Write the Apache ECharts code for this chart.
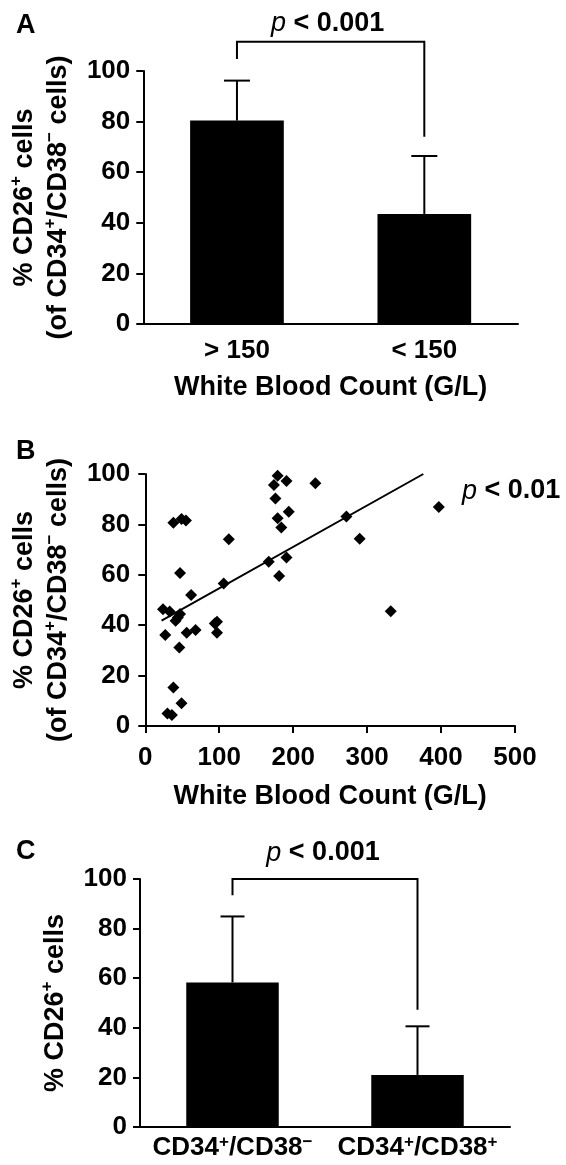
<!DOCTYPE html>
<html><head><meta charset="utf-8">
<script src="https://cdn.jsdelivr.net/npm/echarts@6/dist/echarts.min.js"></script>
<style>html,body{margin:0;padding:0;background:#fff}#c{width:566px;height:1165px}</style>
</head><body><div id="c"></div>
<script>
// ---------- Panel A ----------
const catsA = ['> 150', '< 150'];
const meanA = [80.4, 43.5];
const errTopA = [96.2, 66.4];
const bracketA = [111.6, 104.7, 74.0]; // top, left leg end, right leg end
const pTextA = 'p < 0.001';
const yNameA = ['% CD26⁺ cells', '(of CD34⁺/CD38⁻ cells)'];
const xNameA = 'White Blood Count (G/L)';

// ---------- Panel B ----------
const scatterX = [179, 174, 191, 230, 176, 194, 179, 184, 38, 49, 55, 113, 167, 191, 181, 106, 47, 62, 24, 33, 47, 41, 44, 27, 56, 68, 46, 97, 94, 97, 38, 49, 30, 36, 272, 290, 397, 332];
const scatterY = [99.3, 95.6, 97.2, 96.3, 90.3, 85.0, 82.4, 78.8, 80.7, 82.1, 81.5, 74.1, 65.2, 66.9, 59.5, 56.5, 60.7, 52.0, 46.3, 45.4, 44.4, 41.8, 43.1, 36.1, 37.0, 38.1, 31.2, 41.4, 40.7, 37.0, 15.3, 9.0, 5.0, 4.4, 83.1, 74.3, 86.9, 45.5];
const fitX = [22, 376];
const fitY = [41.8, 100];
const pTextB = 'p < 0.01';
const yNameB = ['% CD26⁺ cells', '(of CD34⁺/CD38⁻ cells)'];
const xNameB = 'White Blood Count (G/L)';

// ---------- Panel C ----------
const catsC = ['CD34⁺/CD38⁻', 'CD34⁺/CD38⁺'];
const meanC = [58.3, 21.0];
const errTopC = [84.9, 40.6];
const bracketC = [100, 93.4, 47.3];
const pTextC = 'p < 0.001';
const yNameC = ['% CD26⁺ cells'];

const panelLetters = ['A', 'B', 'C'];

// ---------- helpers ----------
const FF = '"Liberation Sans", Arial, Helvetica, sans-serif';
const FS = 26;   // tick labels
const NS = 27;   // axis names
function sup(s) { return s.replace(/⁺/g, '{s|+}').replace(/⁻/g, '{s|−}'); }
const supRich = { s: { fontSize: 17, fontWeight: 'bold', fontFamily: FF, color: '#000', verticalAlign: 'top', lineHeight: 16 } };
function pRich(t) { return '{i|' + t.charAt(0) + '}{b|' + t.slice(1) + '}'; }
const pRichStyle = {
  i: { fontSize: NS, fontStyle: 'italic', fontWeight: 'normal', fontFamily: FF, color: '#000' },
  b: { fontSize: NS, fontWeight: 'bold', fontFamily: FF, color: '#000' }
};

function yAxisCfg(gridIndex, nameLines, nameGap, labelMargin) {
  return {
    gridIndex, type: 'value', min: 0, max: 100, interval: 20,
    name: nameLines.map(sup).join('\n'), nameLocation: 'middle', nameRotate: 90, nameGap,
    nameTextStyle: { fontSize: NS, fontWeight: 'bold', fontFamily: FF, color: '#000', lineHeight: 34, rich: supRich },
    axisLine: { show: true, lineStyle: { color: '#000', width: 2 } },
    axisTick: { show: true, length: 7, lineStyle: { color: '#000', width: 2 } },
    axisLabel: { fontSize: FS, fontWeight: 'bold', fontFamily: FF, color: '#000', margin: labelMargin },
    splitLine: { show: false }
  };
}

function errItem(hw) {
  return function (params, api) {
    const x = api.value(0);
    const b = api.coord([x, api.value(1)]);
    const t = api.coord([x, api.value(2)]);
    return { type: 'group', children: [
      { type: 'line', shape: { x1: b[0], y1: b[1], x2: t[0], y2: t[1] }, style: { stroke: '#000', lineWidth: 2 } },
      { type: 'line', shape: { x1: t[0] - hw, y1: t[1], x2: t[0] + hw, y2: t[1] }, style: { stroke: '#000', lineWidth: 2 } }
    ] };
  };
}
function bracketItem(text, off, dx) {
  return function (params, api) {
    const p1 = api.coord([0, api.value(1)]);
    const p2 = api.coord([0, api.value(0)]);
    const p3 = api.coord([1, api.value(0)]);
    const p4 = api.coord([1, api.value(2)]);
    return { type: 'group', children: [
      { type: 'polyline', shape: { points: [p1, p2, p3, p4] }, style: { stroke: '#000', lineWidth: 2, fill: null } },
      { type: 'text', x: (p2[0] + p3[0]) / 2 + dx, y: p2[1] - off,
        style: { text: pRich(text), rich: pRichStyle, align: 'center', verticalAlign: 'middle' } }
    ] };
  };
}

const chart = echarts.init(document.getElementById('c'), null, { renderer: 'canvas' });
chart.setOption({
  animation: false,
  backgroundColor: '#fff',
  grid: [
    { left: 142, top: 71, width: 376, height: 253 },
    { left: 140, top: 474, width: 375, height: 252 },
    { left: 140, top: 879, width: 370, height: 248 }
  ],
  xAxis: [
    { gridIndex: 0, type: 'category', data: catsA,
      name: xNameA, nameLocation: 'middle', nameGap: 50,
      nameTextStyle: { fontSize: NS, fontWeight: 'bold', fontFamily: FF, color: '#000' },
      axisLine: { lineStyle: { color: '#000', width: 2 } }, axisTick: { show: false },
      axisLabel: { fontSize: FS, fontWeight: 'bold', fontFamily: FF, color: '#000', margin: 13, lineHeight: 28, interval: 0 } },
    { gridIndex: 1, type: 'value', min: 0, max: 500, interval: 100,
      name: xNameB, nameLocation: 'middle', nameGap: 57,
      nameTextStyle: { fontSize: NS, fontWeight: 'bold', fontFamily: FF, color: '#000' },
      axisLine: { lineStyle: { color: '#000', width: 2 } },
      axisTick: { show: true, length: 7, lineStyle: { color: '#000', width: 2 } },
      axisLabel: { fontSize: FS, fontWeight: 'bold', fontFamily: FF, color: '#000', margin: 19, lineHeight: 26 },
      splitLine: { show: false } },
    { gridIndex: 2, type: 'category', data: catsC,
      axisLine: { lineStyle: { color: '#000', width: 2 } }, axisTick: { show: false },
      axisLabel: { fontSize: FS, fontWeight: 'bold', fontFamily: FF, color: '#000', margin: 7, lineHeight: 28, interval: 0,
        formatter: v => sup(v), rich: supRich } }
  ],
  yAxis: [
    yAxisCfg(0, yNameA, 54, 13),
    yAxisCfg(1, yNameB, 52, 15),
    yAxisCfg(2, yNameC, 53, 13)
  ],
  series: [
    { type: 'bar', xAxisIndex: 0, yAxisIndex: 0, data: meanA, barWidth: '50%', itemStyle: { color: '#000' }, z: 2 },
    { type: 'custom', xAxisIndex: 0, yAxisIndex: 0, data: meanA.map((m, i) => [i, m, errTopA[i]]), renderItem: errItem(13), z: 3 },
    { type: 'custom', xAxisIndex: 0, yAxisIndex: 0, clip: false, data: [bracketA], renderItem: bracketItem(pTextA, 18.5, -3), z: 3 },

    { type: 'scatter', xAxisIndex: 1, yAxisIndex: 1, data: scatterX.map((x, i) => [x, scatterY[i]]),
      symbol: 'diamond', symbolSize: 12, itemStyle: { color: '#000', opacity: 1 }, z: 3 },
    { type: 'line', xAxisIndex: 1, yAxisIndex: 1, data: fitX.map((x, i) => [x, fitY[i]]),
      showSymbol: false, symbol: 'none', lineStyle: { color: '#000', width: 2 }, z: 2 },

    { type: 'bar', xAxisIndex: 2, yAxisIndex: 2, data: meanC, barWidth: '50%', itemStyle: { color: '#000' }, z: 2 },
    { type: 'custom', xAxisIndex: 2, yAxisIndex: 2, data: meanC.map((m, i) => [i, m, errTopC[i]]), renderItem: errItem(12), z: 3 },
    { type: 'custom', xAxisIndex: 2, yAxisIndex: 2, clip: false, data: [bracketC], renderItem: bracketItem(pTextC, 26, -2), z: 3 }
  ],
  graphic: [
    { type: 'text', left: 16, top: 12, style: { text: panelLetters[0], font: 'bold 27px ' + FF, fill: '#000' } },
    { type: 'text', left: 16, top: 438, style: { text: panelLetters[1], font: 'bold 27px ' + FF, fill: '#000' } },
    { type: 'text', left: 16, top: 838, style: { text: panelLetters[2], font: 'bold 27px ' + FF, fill: '#000' } },
    { type: 'text', x: 462, y: 491, style: { text: pRich(pTextB), rich: pRichStyle, align: 'left', verticalAlign: 'middle' } }
  ]
});
</script></body></html>
